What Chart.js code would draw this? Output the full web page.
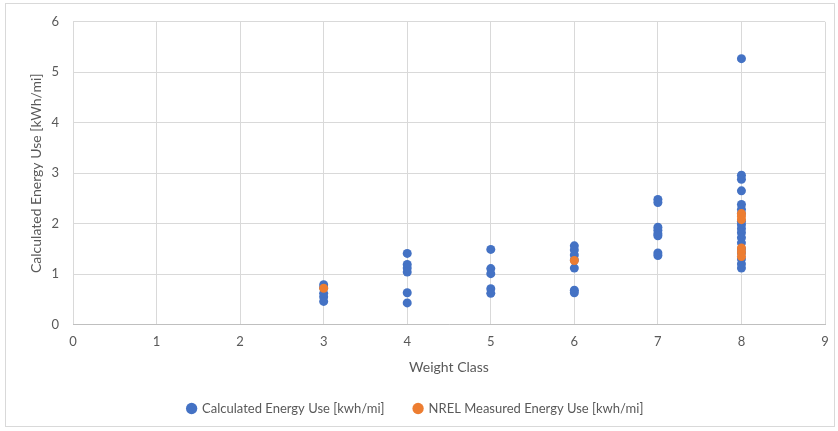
<!DOCTYPE html>
<html>
<head>
<meta charset="utf-8">
<script src="https://cdn.jsdelivr.net/npm/chart.js@4/dist/chart.umd.min.js"></script>
<style>
  html, body { margin: 0; padding: 0; background: #fff; }
  #wrap { position: relative; width: 838px; height: 431px; }
</style>
</head>
<body>
<div id="wrap"><canvas id="c" width="838" height="431"></canvas></div>
<script>
// Calculated Energy Use [kwh/mi] by weight class
const calcClass = [3,3,3,3,3, 4,4,4,4,4,4, 5,5,5,5,5, 6,6,6,6,6,6,6, 7,7,7,7,7,7,7,7,
  8,8,8,8,8,8,8,8,8,8,8,8,8,8,8,8,8,8];
const calcValues = [0.79,0.73,0.62,0.55,0.46, 1.41,1.19,1.12,1.04,0.63,0.43, 1.49,1.11,1.01,0.71,0.62,
  1.56,1.48,1.38,1.28,1.12,0.68,0.63, 2.48,2.42,1.93,1.87,1.80,1.76,1.42,1.37,
  5.27,2.96,2.88,2.65,2.38,2.28,2.20,2.05,1.98,1.90,1.82,1.72,1.62,1.50,1.42,1.30,1.20,1.12];
// NREL Measured Energy Use [kwh/mi]
const nrelClass = [3, 6, 8,8,8,8,8,8];
const nrelValues = [0.72, 1.27, 2.20,2.14,2.08,1.52,1.44,1.35];
const xTicks = [0,1,2,3,4,5,6,7,8,9];
const yTicks = [0,1,2,3,4,5,6];
const seriesNames = ['Calculated Energy Use [kwh/mi]', 'NREL Measured Energy Use [kwh/mi]'];

const FONT = 'Lato, "Liberation Sans", sans-serif';
const TXT = '#595959';

const borderPlugin = {
  id: 'outerBorder',
  beforeDraw(chart) {
    const ctx = chart.ctx;
    ctx.save();
    ctx.strokeStyle = '#d9d9d9';
    ctx.lineWidth = 1;
    ctx.strokeRect(5.5, 3.5, 829, 423);
    ctx.restore();
  }
};

new Chart(document.getElementById('c'), {
  type: 'scatter',
  data: {
    datasets: [
      {
        label: seriesNames[0],
        data: calcClass.map((x, i) => ({x: x, y: calcValues[i]})),
        backgroundColor: '#4472C4',
        borderColor: '#4472C4',
        borderWidth: 0,
        pointRadius: 4.5,
        pointHoverRadius: 4.5,
        order: 1
      },
      {
        label: seriesNames[1],
        data: nrelClass.map((x, i) => ({x: x, y: nrelValues[i]})),
        backgroundColor: '#ED7D31',
        borderColor: '#ED7D31',
        borderWidth: 0,
        pointRadius: 4.5,
        pointHoverRadius: 4.5,
        order: 0
      }
    ]
  },
  options: {
    responsive: false,
    animation: false,
    layout: { padding: { top: 17, right: 13, left: 6, bottom: 6 } },
    plugins: {
      tooltip: { enabled: false },
      legend: {
        position: 'bottom',
        labels: {
          usePointStyle: true,
          pointStyle: 'circle',
          boxWidth: 8,
          boxHeight: 8,
          padding: 10,
          color: TXT,
          font: { family: FONT, size: 13 },
          sort: (a, b) => a.datasetIndex - b.datasetIndex,
          generateLabels: (chart) => {
            const items = Chart.defaults.plugins.legend.labels.generateLabels(chart);
            items.forEach(it => { if (it.datasetIndex === 0) it.text = it.text + '\u2003\u2003'; });
            return items;
          }
        }
      }
    },
    scales: {
      x: {
        type: 'linear',
        min: 0, max: 9,
        afterBuildTicks: (s) => { s.ticks = xTicks.map(v => ({value: v})); },
        grid: { color: '#d9d9d9', drawTicks: false },
        border: { color: '#bfbfbf' },
        ticks: { color: TXT, font: { family: FONT, size: 13 }, padding: 9 },
        title: { display: true, text: 'Weight Class', color: TXT, font: { family: FONT, size: 14 }, padding: { top: 1, bottom: 16 } }
      },
      y: {
        type: 'linear',
        min: 0, max: 6,
        afterBuildTicks: (s) => { s.ticks = yTicks.map(v => ({value: v})); },
        afterFit: (s) => { s.width = 67; },
        grid: { color: '#d9d9d9', drawTicks: false },
        border: { display: false },
        ticks: { color: TXT, font: { family: FONT, size: 13 }, padding: 14 },
        title: { display: true, text: 'Calculated Energy Use [kWh/mi]', color: TXT, font: { family: FONT, size: 14 }, padding: { top: 22, bottom: 0 } }
      }
    }
  },
  plugins: [borderPlugin]
});
</script>
</body>
</html>
